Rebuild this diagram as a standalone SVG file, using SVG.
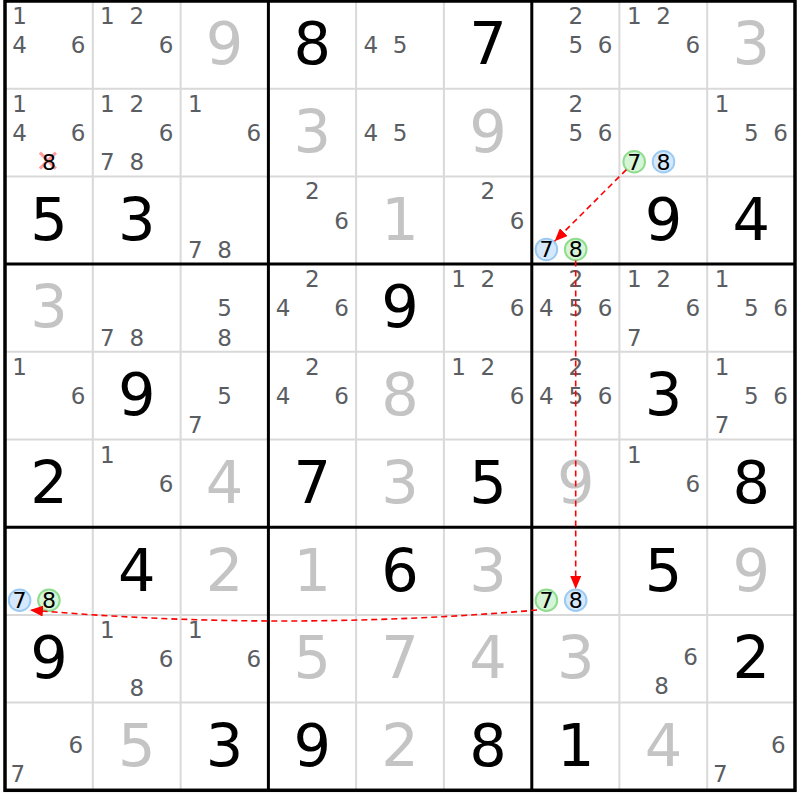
<svg xmlns="http://www.w3.org/2000/svg" width="800" height="800" viewBox="0 0 800 800">
<style>
text{font-family:"DejaVu Sans","Liberation Sans",sans-serif;text-anchor:middle}
.g{font-size:59px;fill:#000}
.s{font-size:59px;fill:#c4c4c4}
.c{font-size:23px;fill:#5a5d62}
.k{font-size:22px;fill:#000}
.thin{stroke:#d9d9d9;stroke-width:2}
.thick{stroke:#000;stroke-width:3}
.gc{fill:#d6f4d6;stroke:#8edc8e;stroke-width:2}
.bc{fill:#d6e9fc;stroke:#9ccaf2;stroke-width:2}
.arr{fill:none;stroke:#f00;stroke-width:1.6;stroke-dasharray:6,4;marker-end:url(#ah)}
</style>
<defs>
<marker id="ah" markerUnits="userSpaceOnUse" markerWidth="13" markerHeight="11" refX="13" refY="5.5" orient="auto">
<path d="M0,0 L13,5.5 L0,11 z" fill="#f00"/>
</marker>
</defs>
<rect width="800" height="800" fill="#fff"/>
<g id="grid">
<path class="thin" d="M92.8,1V790.3M180.6,1V790.3M356.1,1V790.3M443.9,1V790.3M619.4,1V790.3M707.2,1V790.3M5,88.7H795M5,176.4H795M5,351.8H795M5,439.5H795M5,614.9H795M5,702.6H795"/>
<path class="thick" d="M268.4,1V790.3M531.8,1V790.3M5,264.1H795M5,527.2H795"/>
<rect x="5" y="1" width="790" height="789.3" fill="none" stroke="#000" stroke-width="3.5"/>
</g>
<!-- Row 1 -->
<g id="r1c1" transform="translate(48.9,44.85)"><text class="c" x="-29.3" y="-20.8">1</text><text class="c" x="-29.3" y="8.4">4</text><text class="c" x="29.3" y="8.4">6</text></g>
<g id="r1c2" transform="translate(136.7,44.85)"><text class="c" x="-29.3" y="-20.8">1</text><text class="c" x="0" y="-20.8">2</text><text class="c" x="29.3" y="8.4">6</text></g>
<g id="r1c3" transform="translate(224.5,44.85)"><text class="s" y="19.5">9</text></g>
<g id="r1c4" transform="translate(312.3,44.85)"><text class="g" y="19.5">8</text></g>
<g id="r1c5" transform="translate(400.1,44.85)"><text class="c" x="-29.3" y="8.4">4</text><text class="c" x="0" y="8.4">5</text></g>
<g id="r1c6" transform="translate(487.9,44.85)"><text class="g" y="19.5">7</text></g>
<g id="r1c7" transform="translate(575.7,44.85)"><text class="c" x="0" y="-20.8">2</text><text class="c" x="0" y="8.4">5</text><text class="c" x="29.3" y="8.4">6</text></g>
<g id="r1c8" transform="translate(663.5,44.85)"><text class="c" x="-29.3" y="-20.8">1</text><text class="c" x="0" y="-20.8">2</text><text class="c" x="29.3" y="8.4">6</text></g>
<g id="r1c9" transform="translate(751.3,44.85)"><text class="s" y="19.5">3</text></g>
<!-- Row 2 -->
<g id="r2c1" transform="translate(48.9,132.55)"><text class="c" x="-29.3" y="-20.8">1</text><text class="c" x="-29.3" y="8.4">4</text><text class="c" x="29.3" y="8.4">6</text><path d="M-9,20 L7,36 M7,20 L-9,36" stroke="#ff6a6a" stroke-opacity="0.65" stroke-width="3.2"/><text class="k" x="0" y="37.2">8</text></g>
<g id="r2c2" transform="translate(136.7,132.55)"><text class="c" x="-29.3" y="-20.8">1</text><text class="c" x="0" y="-20.8">2</text><text class="c" x="29.3" y="8.4">6</text><text class="c" x="-29.3" y="37.6">7</text><text class="c" x="0" y="37.6">8</text></g>
<g id="r2c3" transform="translate(224.5,132.55)"><text class="c" x="-29.3" y="-20.8">1</text><text class="c" x="29.3" y="8.4">6</text></g>
<g id="r2c4" transform="translate(312.3,132.55)"><text class="s" y="19.5">3</text></g>
<g id="r2c5" transform="translate(400.1,132.55)"><text class="c" x="-29.3" y="8.4">4</text><text class="c" x="0" y="8.4">5</text></g>
<g id="r2c6" transform="translate(487.9,132.55)"><text class="s" y="19.5">9</text></g>
<g id="r2c7" transform="translate(575.7,132.55)"><text class="c" x="0" y="-20.8">2</text><text class="c" x="0" y="8.4">5</text><text class="c" x="29.3" y="8.4">6</text></g>
<g id="r2c8" transform="translate(663.5,132.55)"><circle class="gc" cx="-29.3" cy="29.2" r="10.8"/><text class="k" x="-29.3" y="37.2">7</text><circle class="bc" cx="0" cy="29.2" r="10.8"/><text class="k" x="0" y="37.2">8</text></g>
<g id="r2c9" transform="translate(751.3,132.55)"><text class="c" x="-29.3" y="-20.8">1</text><text class="c" x="0" y="8.4">5</text><text class="c" x="29.3" y="8.4">6</text></g>
<!-- Row 3 -->
<g id="r3c1" transform="translate(48.9,220.25)"><text class="g" y="19.5">5</text></g>
<g id="r3c2" transform="translate(136.7,220.25)"><text class="g" y="19.5">3</text></g>
<g id="r3c3" transform="translate(224.5,220.25)"><text class="c" x="-29.3" y="37.6">7</text><text class="c" x="0" y="37.6">8</text></g>
<g id="r3c4" transform="translate(312.3,220.25)"><text class="c" x="0" y="-20.8">2</text><text class="c" x="29.3" y="8.4">6</text></g>
<g id="r3c5" transform="translate(400.1,220.25)"><text class="s" y="19.5">1</text></g>
<g id="r3c6" transform="translate(487.9,220.25)"><text class="c" x="0" y="-20.8">2</text><text class="c" x="29.3" y="8.4">6</text></g>
<g id="r3c7" transform="translate(575.7,220.25)"><circle class="bc" cx="-29.3" cy="29.2" r="10.8"/><text class="k" x="-29.3" y="37.2">7</text><circle class="gc" cx="0" cy="29.2" r="10.8"/><text class="k" x="0" y="37.2">8</text></g>
<g id="r3c8" transform="translate(663.5,220.25)"><text class="g" y="19.5">9</text></g>
<g id="r3c9" transform="translate(751.3,220.25)"><text class="g" y="19.5">4</text></g>
<!-- Row 4 -->
<g id="r4c1" transform="translate(48.9,307.95)"><text class="s" y="19.5">3</text></g>
<g id="r4c2" transform="translate(136.7,307.95)"><text class="c" x="-29.3" y="37.6">7</text><text class="c" x="0" y="37.6">8</text></g>
<g id="r4c3" transform="translate(224.5,307.95)"><text class="c" x="0" y="8.4">5</text><text class="c" x="0" y="37.6">8</text></g>
<g id="r4c4" transform="translate(312.3,307.95)"><text class="c" x="0" y="-20.8">2</text><text class="c" x="-29.3" y="8.4">4</text><text class="c" x="29.3" y="8.4">6</text></g>
<g id="r4c5" transform="translate(400.1,307.95)"><text class="g" y="19.5">9</text></g>
<g id="r4c6" transform="translate(487.9,307.95)"><text class="c" x="-29.3" y="-20.8">1</text><text class="c" x="0" y="-20.8">2</text><text class="c" x="29.3" y="8.4">6</text></g>
<g id="r4c7" transform="translate(575.7,307.95)"><text class="c" x="0" y="-20.8">2</text><text class="c" x="-29.3" y="8.4">4</text><text class="c" x="0" y="8.4">5</text><text class="c" x="29.3" y="8.4">6</text></g>
<g id="r4c8" transform="translate(663.5,307.95)"><text class="c" x="-29.3" y="-20.8">1</text><text class="c" x="0" y="-20.8">2</text><text class="c" x="29.3" y="8.4">6</text><text class="c" x="-29.3" y="37.6">7</text></g>
<g id="r4c9" transform="translate(751.3,307.95)"><text class="c" x="-29.3" y="-20.8">1</text><text class="c" x="0" y="8.4">5</text><text class="c" x="29.3" y="8.4">6</text></g>
<!-- Row 5 -->
<g id="r5c1" transform="translate(48.9,395.65)"><text class="c" x="-29.3" y="-20.8">1</text><text class="c" x="29.3" y="8.4">6</text></g>
<g id="r5c2" transform="translate(136.7,395.65)"><text class="g" y="19.5">9</text></g>
<g id="r5c3" transform="translate(224.5,395.65)"><text class="c" x="0" y="8.4">5</text><text class="c" x="-29.3" y="37.6">7</text></g>
<g id="r5c4" transform="translate(312.3,395.65)"><text class="c" x="0" y="-20.8">2</text><text class="c" x="-29.3" y="8.4">4</text><text class="c" x="29.3" y="8.4">6</text></g>
<g id="r5c5" transform="translate(400.1,395.65)"><text class="s" y="19.5">8</text></g>
<g id="r5c6" transform="translate(487.9,395.65)"><text class="c" x="-29.3" y="-20.8">1</text><text class="c" x="0" y="-20.8">2</text><text class="c" x="29.3" y="8.4">6</text></g>
<g id="r5c7" transform="translate(575.7,395.65)"><text class="c" x="0" y="-20.8">2</text><text class="c" x="-29.3" y="8.4">4</text><text class="c" x="0" y="8.4">5</text><text class="c" x="29.3" y="8.4">6</text></g>
<g id="r5c8" transform="translate(663.5,395.65)"><text class="g" y="19.5">3</text></g>
<g id="r5c9" transform="translate(751.3,395.65)"><text class="c" x="-29.3" y="-20.8">1</text><text class="c" x="0" y="8.4">5</text><text class="c" x="29.3" y="8.4">6</text><text class="c" x="-29.3" y="37.6">7</text></g>
<!-- Row 6 -->
<g id="r6c1" transform="translate(48.9,483.35)"><text class="g" y="19.5">2</text></g>
<g id="r6c2" transform="translate(136.7,483.35)"><text class="c" x="-29.3" y="-20.8">1</text><text class="c" x="29.3" y="8.4">6</text></g>
<g id="r6c3" transform="translate(224.5,483.35)"><text class="s" y="19.5">4</text></g>
<g id="r6c4" transform="translate(312.3,483.35)"><text class="g" y="19.5">7</text></g>
<g id="r6c5" transform="translate(400.1,483.35)"><text class="s" y="19.5">3</text></g>
<g id="r6c6" transform="translate(487.9,483.35)"><text class="g" y="19.5">5</text></g>
<g id="r6c7" transform="translate(575.7,483.35)"><text class="s" y="19.5">9</text></g>
<g id="r6c8" transform="translate(663.5,483.35)"><text class="c" x="-29.3" y="-20.8">1</text><text class="c" x="29.3" y="8.4">6</text></g>
<g id="r6c9" transform="translate(751.3,483.35)"><text class="g" y="19.5">8</text></g>
<!-- Row 7 -->
<g id="r7c1" transform="translate(48.9,571.05)"><circle class="bc" cx="-29.3" cy="29.2" r="10.8"/><text class="k" x="-29.3" y="37.2">7</text><circle class="gc" cx="0" cy="29.2" r="10.8"/><text class="k" x="0" y="37.2">8</text></g>
<g id="r7c2" transform="translate(136.7,571.05)"><text class="g" y="19.5">4</text></g>
<g id="r7c3" transform="translate(224.5,571.05)"><text class="s" y="19.5">2</text></g>
<g id="r7c4" transform="translate(312.3,571.05)"><text class="s" y="19.5">1</text></g>
<g id="r7c5" transform="translate(400.1,571.05)"><text class="g" y="19.5">6</text></g>
<g id="r7c6" transform="translate(487.9,571.05)"><text class="s" y="19.5">3</text></g>
<g id="r7c7" transform="translate(575.7,571.05)"><circle class="gc" cx="-29.3" cy="29.2" r="10.8"/><text class="k" x="-29.3" y="37.2">7</text><circle class="bc" cx="0" cy="29.2" r="10.8"/><text class="k" x="0" y="37.2">8</text></g>
<g id="r7c8" transform="translate(663.5,571.05)"><text class="g" y="19.5">5</text></g>
<g id="r7c9" transform="translate(751.3,571.05)"><text class="s" y="19.5">9</text></g>
<!-- Row 8 -->
<g id="r8c1" transform="translate(48.9,658.75)"><text class="g" y="19.5">9</text></g>
<g id="r8c2" transform="translate(136.7,658.75)"><text class="c" x="-29.3" y="-20.8">1</text><text class="c" x="29.3" y="8.4">6</text><text class="c" x="0" y="37.6">8</text></g>
<g id="r8c3" transform="translate(224.5,658.75)"><text class="c" x="-29.3" y="-20.8">1</text><text class="c" x="29.3" y="8.4">6</text></g>
<g id="r8c4" transform="translate(312.3,658.75)"><text class="s" y="19.5">5</text></g>
<g id="r8c5" transform="translate(400.1,658.75)"><text class="s" y="19.5">7</text></g>
<g id="r8c6" transform="translate(487.9,658.75)"><text class="s" y="19.5">4</text></g>
<g id="r8c7" transform="translate(575.7,658.75)"><text class="s" y="19.5">3</text></g>
<g id="r8c8" transform="translate(663.5,658.75)"><text class="c" x="27" y="6.5">6</text><text class="c" x="-2" y="35.5">8</text></g>
<g id="r8c9" transform="translate(751.3,658.75)"><text class="g" y="19.5">2</text></g>
<!-- Row 9 -->
<g id="r9c1" transform="translate(48.9,746.45)"><text class="c" x="27" y="6.5">6</text><text class="c" x="-31" y="35.5">7</text></g>
<g id="r9c2" transform="translate(136.7,746.45)"><text class="s" y="19.5">5</text></g>
<g id="r9c3" transform="translate(224.5,746.45)"><text class="g" y="19.5">3</text></g>
<g id="r9c4" transform="translate(312.3,746.45)"><text class="g" y="19.5">9</text></g>
<g id="r9c5" transform="translate(400.1,746.45)"><text class="s" y="19.5">2</text></g>
<g id="r9c6" transform="translate(487.9,746.45)"><text class="g" y="19.5">8</text></g>
<g id="r9c7" transform="translate(575.7,746.45)"><text class="g" y="19.5">1</text></g>
<g id="r9c8" transform="translate(663.5,746.45)"><text class="s" y="19.5">4</text></g>
<g id="r9c9" transform="translate(751.3,746.45)"><text class="c" x="27" y="6.5">6</text><text class="c" x="-31" y="35.5">7</text></g>
<g id="connectors">
<path class="arr" d="M626.4,169.6 L554.6,241.3"/>
<path class="arr" d="M575.7,260.5 L575.7,589"/>
<path class="arr" d="M537,610 Q283,632 30,610"/>
</g>
</svg>
